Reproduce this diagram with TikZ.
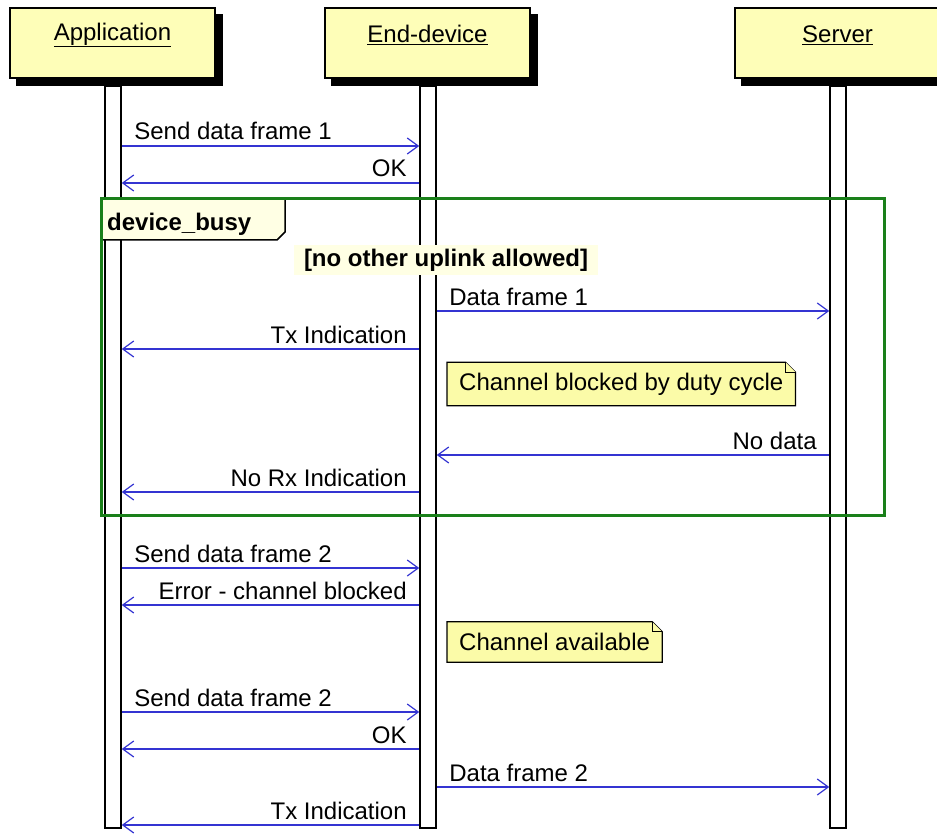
\documentclass[tikz,border=0pt]{standalone}
\usepackage{fontspec}
\setmainfont{Liberation Sans}
\usetikzlibrary{arrows.meta,backgrounds}

\definecolor{partfill}{HTML}{FEFEB8}
\definecolor{notefill}{HTML}{FBFBA8}
\definecolor{tabfill}{HTML}{FFFFE4}
\definecolor{grpgreen}{HTML}{1A801A}
\definecolor{msgblue}{HTML}{3434D2}

% folded note outline behind a note node
\newcommand{\notecorner}[1]{%
  \filldraw[notebg] (#1.south west) -- (#1.north west) -- ([xshift=-10pt]#1.north east)
    -- ([yshift=-10pt]#1.north east) -- (#1.south east) -- cycle;
  \draw[notebg] ([xshift=-10pt]#1.north east) |- ([yshift=-10pt]#1.north east);}
% solid shadow behind a participant box
\newcommand{\boxshadow}[1]{%
  \fill[black] ([xshift=7pt,yshift=-7pt]#1.south west) rectangle ([xshift=7pt,yshift=-7pt]#1.north east);}

\begin{document}
\begin{tikzpicture}[x=1pt, y=-1pt, font=\fontsize{24}{28}\selectfont,
  part/.style={draw=black, line width=2pt, fill=partfill, minimum width=205pt, minimum height=70pt},
  life/.style={draw=black, line width=1.5pt, fill=white, minimum width=16pt, minimum height=742pt, inner sep=0pt},
  msg/.style={draw=msgblue, line width=1.2pt, -{Straight Barb[length=11pt,width=16pt,line width=1.2pt]}},
  lblr/.style={anchor=base west, xshift=12pt, yshift=6pt, inner sep=0pt},
  lbll/.style={anchor=base east, xshift=-12pt, yshift=6pt, inner sep=0pt},
  note/.style={anchor=west, inner xsep=12pt, inner ysep=0pt},
  notebg/.style={draw=black, line width=1.2pt, fill=notefill},
  grp/.style={draw=grpgreen, line width=3pt},
  guard/.style={fill=tabfill, inner xsep=10pt, inner ysep=4pt, font=\fontsize{24}{28}\selectfont\bfseries}]
\useasboundingbox (0,0) rectangle (937,837);

% participants
\node[part] (app) at (112.5,43) {};
\node[part] (dev) at (427.5,43) {};
\node[part] (srv) at (837.5,43) {};
\begin{scope}[on background layer]
\boxshadow{app}
\boxshadow{dev}
\boxshadow{srv}
\end{scope}
\node (appT) at ([yshift=8pt]app.center) {\underline{Application}};
\node (devT) at ([yshift=8pt]dev.center) {\underline{End-device}};
\node (srvT) at ([yshift=8pt]srv.center) {\underline{Server}};

% lifelines
\node[life] (appL) at (113,457) {};
\node[life] (devL) at (428,457) {};
\node[life] (srvL) at (838,457) {};

% group device_busy
\coordinate (busyNW) at (101,199);
\coordinate (busySE) at (884,515);
\fill[tabfill] (busyNW) -- ++(184,0) -- ++(0,33) -- ++(-8,8) -- ++(-176,0) -- cycle;
\draw[black, line width=1.5pt] ([xshift=184pt]busyNW) -- ++(0,33) -- ++(-8,8) -- ++(-176,0);
\draw[grp] (busyNW) rectangle (busySE);
\node[anchor=base west, inner sep=0pt, font=\fontsize{24}{28}\selectfont\bfseries] (busyT) at (107,231) {device\_busy};
\node[guard] (guardT) at (446,260) {[no other uplink allowed]};

% notes
\node[note, minimum height=43pt] (blocked) at (447,384) {Channel blocked by duty cycle};
\node[note, minimum height=40pt] (avail) at (447,642) {Channel available};
\begin{scope}[on background layer]
\notecorner{blocked}
\notecorner{avail}
\end{scope}

% messages
\coordinate (m1) at (0,146);
\coordinate (m2) at (0,183);
\coordinate (m3) at (0,311);
\coordinate (m4) at (0,349);
\coordinate (m5) at (0,455);
\coordinate (m6) at (0,492);
\coordinate (m7) at (0,568);
\coordinate (m8) at (0,605);
\coordinate (m9) at (0,712);
\coordinate (m10) at (0,749);
\coordinate (m11) at (0,787);
\coordinate (m12) at (0,825);

\draw[msg] (appL.east |- m1) -- (devL.west |- m1) node[lblr, pos=0] {Send data frame 1};
\draw[msg] (devL.west |- m2) -- (appL.east |- m2) node[lbll, pos=0] {OK};
\draw[msg] (devL.east |- m3) -- (srvL.west |- m3) node[lblr, pos=0] {Data frame 1};
\draw[msg] (devL.west |- m4) -- (appL.east |- m4) node[lbll, pos=0] {Tx Indication};
\draw[msg] (srvL.west |- m5) -- (devL.east |- m5) node[lbll, pos=0] {No data};
\draw[msg] (devL.west |- m6) -- (appL.east |- m6) node[lbll, pos=0] {No Rx Indication};
\draw[msg] (appL.east |- m7) -- (devL.west |- m7) node[lblr, pos=0] {Send data frame 2};
\draw[msg] (devL.west |- m8) -- (appL.east |- m8) node[lbll, pos=0] {Error - channel blocked};
\draw[msg] (appL.east |- m9) -- (devL.west |- m9) node[lblr, pos=0] {Send data frame 2};
\draw[msg] (devL.west |- m10) -- (appL.east |- m10) node[lbll, pos=0] {OK};
\draw[msg] (devL.east |- m11) -- (srvL.west |- m11) node[lblr, pos=0] {Data frame 2};
\draw[msg] (devL.west |- m12) -- (appL.east |- m12) node[lbll, pos=0] {Tx Indication};
\end{tikzpicture}
\end{document}
